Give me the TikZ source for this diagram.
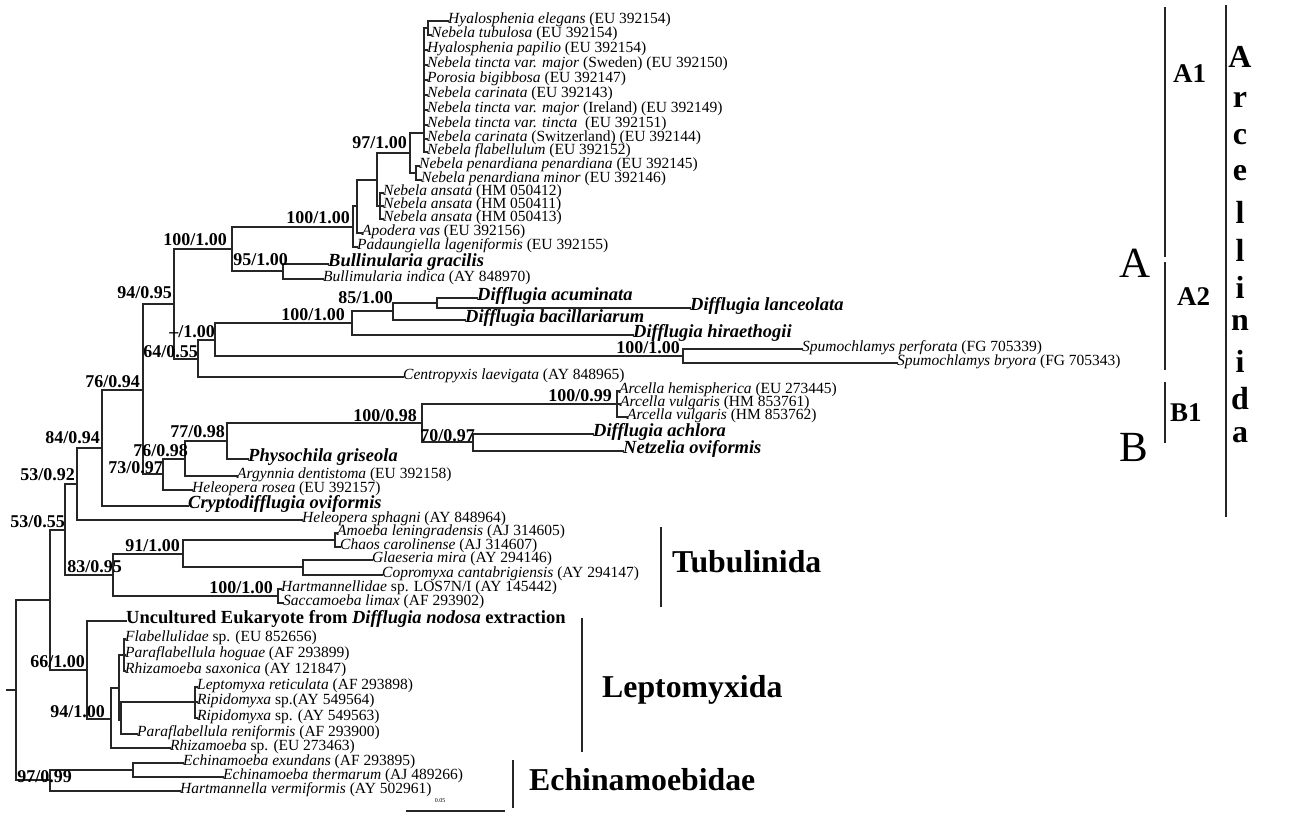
\documentclass[tikz,border=0pt]{standalone}
\usepackage{fontspec}
\setmainfont{Liberation Serif}
\begin{document}
\begin{tikzpicture}[x=1pt,y=-1pt,
  br/.style={line width=1.2pt, draw=black!85, line cap=rect},
  lf/.style={anchor=west, inner sep=0pt, font=\fontsize{15.5}{16}\selectfont, text height=1.5ex, text depth=.3ex},
  bl/.style={anchor=west, inner sep=0pt, font=\fontsize{18.5}{19}\selectfont\bfseries\itshape, text height=1.5ex, text depth=.3ex},
  bt/.style={anchor=west, inner sep=0pt, font=\fontsize{18.5}{19}\selectfont\bfseries, text height=1.5ex, text depth=.3ex},
  bs/.style={anchor=east, inner sep=0pt, font=\fontsize{18}{18}\selectfont\bfseries},
  grp/.style={anchor=west, inner sep=0pt, font=\fontsize{31.8}{32}\selectfont\bfseries},
  sub/.style={anchor=west, inner sep=0pt, font=\fontsize{27}{27}\selectfont\bfseries},
  huge/.style={inner sep=0pt, font=\fontsize{43}{43}\selectfont},
  arcl/.style={inner sep=0pt, font=\fontsize{32}{32}\selectfont\bfseries},
  bar/.style={line width=1.2pt, draw=black!85}]
\useasboundingbox (0,0) rectangle (1294,823);

% internal nodes
\coordinate (rootstub) at (7,690);
\coordinate (root) at (16,690);
\coordinate (nX) at (50,600);
\coordinate (nY) at (65,530);
\coordinate (nZ) at (77,484);
\coordinate (n84) at (102,448);
\coordinate (n7694) at (143,390);
\coordinate (n9495) at (174,304);
\coordinate (n100a) at (232,249);
\coordinate (N1) at (353,227);
\coordinate (N2) at (357,206);
\coordinate (N3) at (377,180);
\coordinate (Q) at (410,153);
\coordinate (P1) at (424,133);
\coordinate (P0) at (428,28);
\coordinate (pen) at (416,173);
\coordinate (ans) at (380,206);
\coordinate (bull) at (283,271);
\coordinate (n6455) at (198,359);
\coordinate (nDash) at (215,340);
\coordinate (D1) at (352,323);
\coordinate (D2) at (393,311);
\coordinate (D3) at (437,303);
\coordinate (spumo) at (683,356);
\coordinate (n7397) at (163,474);
\coordinate (n7698) at (185,459);
\coordinate (n7798) at (227,441);
\coordinate (n10098) at (422,423);
\coordinate (arc) at (617,404);
\coordinate (n7097) at (473,442);
\coordinate (n83) at (113,575);
\coordinate (n91) at (183,554);
\coordinate (amch) at (335,540);
\coordinate (glco) at (303,567);
\coordinate (hart) at (278,596);
\coordinate (n66) at (87,670);
\coordinate (n94) at (111,719);
\coordinate (n119) at (119,688);
\coordinate (flab) at (124,655);
\coordinate (n121) at (121,720);
\coordinate (lepto) at (195,702);
\coordinate (echin) at (50,780);
\coordinate (echpair) at (133,770);

% leaves
\node[lf] (L1) at (448,21) {\textit{Hyalosphenia elegans} (EU 392154)};
\node[lf] (L2) at (431,35) {\textit{Nebela tubulosa} (EU 392154)};
\node[lf] (L3) at (427,50) {\textit{Hyalosphenia papilio} (EU 392154)};
\node[lf] (L4) at (427,65) {\textit{Nebela tincta var. major} (Sweden) (EU 392150)};
\node[lf] (L5) at (427,80) {\textit{Porosia bigibbosa} (EU 392147)};
\node[lf] (L6) at (427,95) {\textit{Nebela carinata} (EU 392143)};
\node[lf] (L7) at (427,110) {\textit{Nebela tincta var. major} (Ireland) (EU 392149)};
\node[lf] (L8) at (427,125) {\textit{Nebela tincta var. tincta}\ \ (EU 392151)};
\node[lf] (L9) at (427,139) {\textit{Nebela carinata} (Switzerland) (EU 392144)};
\node[lf] (L10) at (427,152) {\textit{Nebela flabellulum} (EU 392152)};
\node[lf] (L11) at (419,166) {\textit{Nebela penardiana penardiana} (EU 392145)};
\node[lf] (L12) at (421,180) {\textit{Nebela penardiana minor} (EU 392146)};
\node[lf] (L13) at (383,193) {\textit{Nebela ansata} (HM 050412)};
\node[lf] (L14) at (383,206) {\textit{Nebela ansata} (HM 050411)};
\node[lf] (L15) at (383,219) {\textit{Nebela ansata} (HM 050413)};
\node[lf] (L16) at (362,233) {\textit{Apodera vas} (EU 392156)};
\node[lf] (L17) at (357,247) {\textit{Padaungiella lageniformis} (EU 392155)};
\node[bl] (L18) at (328,264) {Bullinularia gracilis};
\node[lf] (L19) at (323,279) {\textit{Bullimularia indica} (AY 848970)};
\node[bl] (L20) at (477,298) {Difflugia acuminata};
\node[bl] (L21) at (690,308) {Difflugia lanceolata};
\node[bl] (L22) at (465,320) {Difflugia bacillariarum};
\node[bl] (L23) at (633,335) {Difflugia hiraethogii};
\node[lf] (L24) at (802,349) {\textit{Spumochlamys perforata} (FG 705339)};
\node[lf] (L25) at (897,363) {\textit{Spumochlamys bryora} (FG 705343)};
\node[lf] (L26) at (403,377) {\textit{Centropyxis laevigata} (AY 848965)};
\node[lf] (L27) at (619,391) {\textit{Arcella hemispherica} (EU 273445)};
\node[lf] (L28) at (620,404) {\textit{Arcella vulgaris} (HM 853761)};
\node[lf] (L29) at (627,417) {\textit{Arcella vulgaris} (HM 853762)};
\node[bl] (L30) at (593,434) {Difflugia achlora};
\node[bl] (L31) at (623,451) {Netzelia oviformis};
\node[bl] (L32) at (248,459) {Physochila griseola};
\node[lf] (L33) at (237,476) {\textit{Argynnia dentistoma} (EU 392158)};
\node[lf] (L34) at (192,490) {\textit{Heleopera rosea} (EU 392157)};
\node[bl] (L35) at (188,506) {Cryptodifflugia oviformis};
\node[lf] (L36) at (302,520) {\textit{Heleopera sphagni} (AY 848964)};
\node[lf] (L37) at (337,533) {\textit{Amoeba leningradensis} (AJ 314605)};
\node[lf] (L38) at (340,547) {\textit{Chaos carolinense} (AJ 314607)};
\node[lf] (L39) at (372,560) {\textit{Glaeseria mira} (AY 294146)};
\node[lf] (L40) at (382,575) {\textit{Copromyxa cantabrigiensis} (AY 294147)};
\node[lf] (L41) at (281,589) {\textit{Hartmannellidae} sp. LOS7N/I (AY 145442)};
\node[lf] (L42) at (283,603) {\textit{Saccamoeba limax} (AF 293902)};
\node[bt] (L43) at (126,621) {Uncultured Eukaryote from \textit{Difflugia nodosa} extraction};
\node[lf] (L44) at (125,639) {\textit{Flabellulidae} sp. (EU 852656)};
\node[lf] (L45) at (125,655) {\textit{Paraflabellula hoguae} (AF 293899)};
\node[lf] (L46) at (125,671) {\textit{Rhizamoeba saxonica} (AY 121847)};
\node[lf] (L47) at (197,687) {\textit{Leptomyxa reticulata} (AF 293898)};
\node[lf] (L48) at (197,702) {\textit{Ripidomyxa} sp.(AY 549564)};
\node[lf] (L49) at (197,718) {\textit{Ripidomyxa} sp. (AY 549563)};
\node[lf] (L50) at (137,734) {\textit{Paraflabellula reniformis} (AF 293900)};
\node[lf] (L51) at (170,748) {\textit{Rhizamoeba} sp. (EU 273463)};
\node[lf] (L52) at (183,763) {\textit{Echinamoeba exundans} (AF 293895)};
\node[lf] (L53) at (223,777) {\textit{Echinamoeba thermarum} (AJ 489266)};
\node[lf] (L54) at (180,791) {\textit{Hartmannella vermiformis} (AY 502961)};

% branches
\draw[br] (rootstub) -- (root);
\foreach \p/\c in {root/nX, root/echin, nX/nY, nX/n66, nY/nZ, nY/n83,
  nZ/n84, nZ/L36.west, n84/n7694, n84/L35.west, n7694/n9495, n7694/n7397,
  n9495/n100a, n9495/n6455, n100a/N1, n100a/bull, N1/N2, N1/L17.west,
  N2/N3, N2/L16.west, N3/Q, N3/ans, Q/P1, Q/pen, P1/P0,
  P1/L3.west, P1/L4.west, P1/L5.west, P1/L6.west, P1/L7.west, P1/L8.west, P1/L9.west, P1/L10.west,
  P0/L1.west, P0/L2.west, pen/L11.west, pen/L12.west,
  ans/L13.west, ans/L14.west, ans/L15.west, bull/L18.west, bull/L19.west,
  n6455/nDash, n6455/L26.west, nDash/D1, nDash/spumo, D1/D2, D1/L23.west,
  D2/D3, D2/L22.west, D3/L20.west, D3/L21.west, spumo/L24.west, spumo/L25.west,
  n7397/n7698, n7397/L34.west, n7698/n7798, n7698/L33.west, n7798/n10098, n7798/L32.west,
  n10098/arc, n10098/n7097, arc/L27.west, arc/L28.west, arc/L29.west,
  n7097/L30.west, n7097/L31.west,
  n83/n91, n83/hart, n91/amch, n91/glco, amch/L37.west, amch/L38.west,
  glco/L39.west, glco/L40.west, hart/L41.west, hart/L42.west,
  n66/L43.west, n66/n94, n94/n119, n94/L51.west, n119/flab, n119/n121,
  flab/L44.west, flab/L45.west, flab/L46.west, n121/lepto, n121/L50.west,
  lepto/L47.west, lepto/L48.west, lepto/L49.west,
  echin/echpair, echin/L54.west, echpair/L52.west, echpair/L53.west}
  \draw[br] (\p) |- (\c);

% support values
\node[bs] (s1) at (407,143) {97/1.00};
\node[bs] (s2) at (350,218) {100/1.00};
\node[bs] (s3) at (227,240) {100/1.00};
\node[bs] (s4) at (288,260) {95/1.00};
\node[bs] (s5) at (172,293) {94/0.95};
\node[bs] (s6) at (393,298) {85/1.00};
\node[bs] (s7) at (345,315) {100/1.00};
\node[bs] (s8) at (215,332) {--/1.00};
\node[bs] (s9) at (198,352) {64/0.55};
\node[bs] (s10) at (680,348) {100/1.00};
\node[bs] (s11) at (140,382) {76/0.94};
\node[bs] (s12) at (612,396) {100/0.99};
\node[bs] (s13) at (417,416) {100/0.98};
\node[bs] (s14) at (475,436) {70/0.97};
\node[bs] (s15) at (225,432) {77/0.98};
\node[bs] (s16) at (188,451) {76/0.98};
\node[bs] (s17) at (163,468) {73/0.97};
\node[bs] (s18) at (100,438) {84/0.94};
\node[bs] (s19) at (75,475) {53/0.92};
\node[bs] (s20) at (65,522) {53/0.55};
\node[bs] (s21) at (180,546) {91/1.00};
\node[bs] (s22) at (122,567) {83/0.95};
\node[bs] (s23) at (273,588) {100/1.00};
\node[bs] (s24) at (85,662) {66/1.00};
\node[bs] (s25) at (105,712) {94/1.00};
\node[bs] (s26) at (72,777) {97/0.99};

% group brackets
\coordinate (tb1) at (661,527); \coordinate (tb2) at (661,607);
\draw[bar] (tb1) -- (tb2);
\node[grp] (tub) at (672,562) {Tubulinida};
\coordinate (lb1) at (582,618); \coordinate (lb2) at (582,752);
\draw[bar] (lb1) -- (lb2);
\node[grp] (lep) at (602,690) {Leptomyxida};
\coordinate (eb1) at (513,760); \coordinate (eb2) at (513,808);
\draw[bar] (eb1) -- (eb2);
\node[grp] (ech) at (529,780) {Echinamoebidae};

\coordinate (a1t) at (1165,7); \coordinate (a1b) at (1165,257);
\draw[bar] (a1t) -- (a1b);
\node[sub] (A1) at (1173,74) {A1};
\coordinate (a2t) at (1165,262); \coordinate (a2b) at (1165,370);
\draw[bar] (a2t) -- (a2b);
\node[sub] (A2) at (1177,297) {A2};
\coordinate (b1t) at (1165,382); \coordinate (b1b) at (1165,443);
\draw[bar] (b1t) -- (b1b);
\node[sub] (B1) at (1170,413) {B1};
\node[huge] (bigA) at (1135,263) {A};
\node[huge] (bigB) at (1134,447) {B};

\coordinate (art) at (1226,5); \coordinate (arb) at (1226,517);
\draw[bar] (art) -- (arb);
\foreach \ch/\yy [count=\i] in {A/57, r/100, c/137, e/173, l/212, l/250, i/287, n/323, i/361, d/399, a/435}
  \node[arcl] (ar\i) at (1240,\yy) {\ch};

% scale bar
\coordinate (sb1) at (407,811); \coordinate (sb2) at (504,811);
\draw[br] (sb1) -- (sb2);
\node[inner sep=0pt, font=\fontsize{6}{6}\selectfont] (sbt) at (440,801) {0.05};
\end{tikzpicture}
\end{document}
